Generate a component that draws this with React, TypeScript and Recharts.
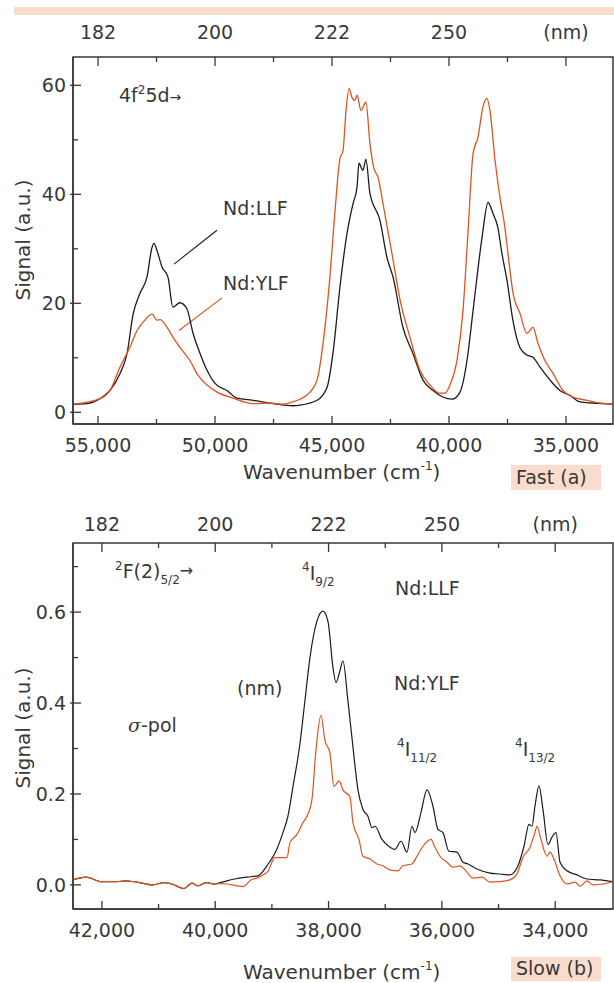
import React from "react"
import { LineChart, Line, XAxis, YAxis, ReferenceArea, ReferenceLine } from "recharts"

const INK = "#383838"
const LLF_COLOR = "#1c1c1c"
const YLF_COLOR = "#e0531f"
const BAND = "#f9dccb"
const FONT = "'DejaVu Sans', sans-serif"

// (a) fast component, 4f25d -> band, x = wavenumber (cm-1)
const fastLlfWn = [56070, 55470, 54920, 54490, 54060, 53760, 53500, 53210, 52910, 52690, 52610, 52480, 52270, 52010, 51800, 51500, 51200, 50940, 50640, 50340, 50000, 49490, 49060, 48380, 47520, 46670, 46370, 45640, 45210, 44960, 44660, 44360, 44100, 43930, 43850, 43680, 43550, 43380, 42950, 42650, 42390, 41970, 41540, 41110, 40680, 40260, 39870, 39530, 39230, 38970, 38590, 38330, 38120, 37910, 37740, 37520, 37270, 36970, 36670, 36410, 36110, 35680, 35260, 34830, 34400, 33850, 32990]
const fastLlfSig = [1.5, 1.6, 2.5, 4.0, 7.1, 10.8, 18, 21.8, 24.8, 30.3, 31, 29.7, 26.7, 24.8, 19.3, 20.1, 19, 14.5, 10.8, 7.7, 5.3, 4.0, 2.6, 2.2, 1.6, 1.2, 1.3, 2.2, 4.6, 10.8, 23, 32.8, 38.3, 41.3, 45.7, 44.4, 46.4, 40.2, 35.2, 28.4, 24.8, 15.6, 10.8, 5.9, 4.0, 2.8, 2.4, 3.7, 9.5, 18.7, 32, 38.5, 36.5, 33.9, 29.2, 24.2, 16.9, 11.9, 10.5, 10.1, 8.3, 5.9, 4.0, 3.1, 1.9, 1.7, 1.5]

const fastYlfWn = [56070, 54910, 54490, 54060, 53630, 53330, 53080, 52690, 52480, 52350, 52050, 51800, 51410, 51070, 50730, 50340, 49910, 49230, 48380, 47650, 47090, 46670, 46370, 45940, 45640, 45380, 45090, 44870, 44660, 44530, 44400, 44270, 44150, 44020, 43930, 43760, 43550, 43380, 43210, 43030, 42820, 42440, 42090, 41670, 41240, 40810, 40380, 40170, 39960, 39660, 39400, 39190, 38970, 38760, 38550, 38380, 38250, 38030, 37820, 37610, 37480, 37260, 36970, 36670, 36410, 36200, 35900, 35560, 35130, 34700, 34100, 33550, 32990]
const fastYlfSig = [1.5, 2.5, 4.0, 8.3, 12, 15, 16.5, 18, 16.9, 17, 15.6, 13.8, 11.4, 9.5, 6.8, 5.0, 3.7, 2.6, 1.6, 1.7, 1.5, 1.9, 2.4, 3.7, 5.9, 12.7, 24.8, 37, 46.6, 48, 55.4, 59.4, 57.8, 57.2, 58.2, 55.4, 56.9, 49.4, 44.8, 43.1, 38.3, 29.2, 20.6, 13.8, 7.7, 5.0, 3.5, 3.5, 5.0, 9.5, 18.7, 32.8, 47.5, 50.5, 56, 57.6, 55.4, 46.2, 39.4, 33.9, 29.2, 21.8, 18.2, 14.5, 15.6, 12.7, 9.5, 7.2, 4.0, 2.8, 2.2, 1.7, 1.5]

// (b) slow component, 2F(2)5/2 -> 4IJ; both crystals share the flat baseline
const slowBaseWn = [42510, 42280, 42000, 41735, 41595, 41380, 41100, 40905, 40765, 40555, 40410, 40305, 40165, 40005]
const slowBaseSig = [0.011, 0.017, 0.007, 0.007, 0.009, 0.006, 0.0, 0.005, 0.002, -0.008, 0.004, -0.002, 0.005, 0.002]

const slowLlfWn = [39935, 39794, 39652, 39440, 39246, 39087, 38911, 38805, 38717, 38628, 38505, 38417, 38328, 38205, 38099, 38011, 37922, 37869, 37799, 37746, 37658, 37569, 37481, 37393, 37305, 37234, 37181, 37057, 36916, 36828, 36722, 36616, 36528, 36475, 36369, 36263, 36157, 36069, 35981, 35875, 35734, 35628, 35540, 35381, 35151, 34975, 34799, 34657, 34551, 34463, 34410, 34357, 34286, 34216, 34128, 34057, 33986, 33915, 33792, 33616, 33439, 33210, 32980]
const slowLlfSig = [0.004, 0.009, 0.013, 0.017, 0.02, 0.042, 0.079, 0.115, 0.151, 0.216, 0.31, 0.405, 0.5, 0.58, 0.602, 0.58, 0.478, 0.445, 0.471, 0.493, 0.405, 0.303, 0.209, 0.166, 0.151, 0.126, 0.129, 0.1, 0.083, 0.078, 0.096, 0.072, 0.129, 0.115, 0.159, 0.209, 0.173, 0.122, 0.115, 0.074, 0.072, 0.05, 0.046, 0.035, 0.026, 0.024, 0.022, 0.042, 0.085, 0.133, 0.129, 0.173, 0.218, 0.166, 0.089, 0.105, 0.115, 0.05, 0.031, 0.022, 0.013, 0.011, 0.007]

const slowYlfWn = [39935, 39794, 39652, 39511, 39370, 39246, 39158, 39070, 38946, 38734, 38681, 38558, 38452, 38381, 38293, 38222, 38134, 38064, 37975, 37905, 37816, 37746, 37622, 37569, 37463, 37393, 37269, 37146, 37040, 36916, 36775, 36687, 36528, 36440, 36334, 36192, 36122, 36034, 35910, 35804, 35681, 35557, 35451, 35292, 35151, 34975, 34799, 34675, 34569, 34445, 34357, 34322, 34251, 34145, 34092, 34022, 33915, 33792, 33651, 33562, 33439, 33333, 33157, 32980]
const slowYlfSig = [0.003, 0.002, -0.001, -0.004, 0.011, 0.016, 0.022, 0.03, 0.06, 0.06, 0.093, 0.111, 0.137, 0.151, 0.188, 0.297, 0.373, 0.318, 0.29, 0.216, 0.229, 0.209, 0.194, 0.137, 0.1, 0.063, 0.057, 0.046, 0.042, 0.033, 0.031, 0.042, 0.046, 0.063, 0.085, 0.1, 0.083, 0.063, 0.05, 0.039, 0.042, 0.028, 0.015, 0.017, 0.006, 0.007, 0.011, 0.024, 0.061, 0.083, 0.115, 0.129, 0.1, 0.063, 0.072, 0.057, 0.02, 0.002, 0.006, -0.003, 0.009, 0.0, 0.002, 0.007]

// ticks
const fastWnTicks = [55000, 52500, 50000, 47500, 45000, 42500, 40000, 37500, 35000]
const fastWnMajors = [55000, 50000, 45000, 40000, 35000]
const fastWnLabels = ["55,000", "50,000", "45,000", "40,000", "35,000"]
const fastYTicks = [0, 10, 20, 30, 40, 50, 60]
const fastYMajors = [0, 20, 40, 60]
const fastYLabels = ["0", "20", "40", "60"]

const slowWnTicks = [42000, 41000, 40000, 39000, 38000, 37000, 36000, 35000, 34000]
const slowWnMajors = [42000, 40000, 38000, 36000, 34000]
const slowWnLabels = ["42,000", "40,000", "38,000", "36,000", "34,000"]
const slowYTicks = [0, 0.1, 0.2, 0.3, 0.4, 0.5, 0.6, 0.7]
const slowYMajors = [0, 0.2, 0.4, 0.6]
const slowYLabels = ["0.0", "0.2", "0.4", "0.6"]

// top axes carry the same wavelength labels in both panels
const nmLabels = ["182", "200", "222", "250", "(nm)"]

const zip = (xs: number[], ys: number[]) => xs.map((wn, i) => ({ wn, s: ys[i] }))

const fastLlf = zip(fastLlfWn, fastLlfSig)
const fastYlf = zip(fastYlfWn, fastYlfSig)
const slowLlf = zip([...slowBaseWn, ...slowLlfWn], [...slowBaseSig, ...slowLlfSig])
const slowYlf = zip([...slowBaseWn, ...slowYlfWn], [...slowBaseSig, ...slowYlfSig])

const txt = { fontFamily: FONT, fill: INK }

const bottomTick = (majors: number[], labels: string[]) => (props: any) => {
  const { x, y, payload } = props
  const i = majors.indexOf(payload.value)
  return (
    <g>
      <line x1={x} y1={y} x2={x} y2={y - (i >= 0 ? 8 : 5)} stroke={INK} strokeWidth={1.3} />
      {i >= 0 && (
        <text x={x} y={y + 21} textAnchor="middle" dominantBaseline="central" fontSize={19} {...txt}>
          {labels[i]}
        </text>
      )}
    </g>
  )
}

const topTick = (majors: number[], gap: number) => (props: any) => {
  const { x, y, payload } = props
  const i = majors.indexOf(payload.value)
  return (
    <g>
      <line x1={x} y1={y} x2={x} y2={y + (i >= 0 ? 9 : 5)} stroke={INK} strokeWidth={1.3} />
      {i >= 0 && (
        <text x={x} y={y - gap} textAnchor="middle" dominantBaseline="central" fontSize={19} {...txt}>
          {nmLabels[i]}
        </text>
      )}
    </g>
  )
}

const leftTick = (majors: number[], labels: string[]) => (props: any) => {
  const { x, y, payload } = props
  const i = majors.findIndex((m) => Math.abs(m - payload.value) < 1e-9)
  return (
    <g>
      {i >= 0 ? (
        <line x1={x - 3} y1={y} x2={x + 8} y2={y} stroke={INK} strokeWidth={1.3} />
      ) : (
        <line x1={x} y1={y} x2={x + 5} y2={y} stroke={INK} strokeWidth={1.3} />
      )}
      {i >= 0 && (
        <text x={x - 7} y={y} textAnchor="end" dominantBaseline="central" fontSize={19} {...txt}>
          {labels[i]}
        </text>
      )}
    </g>
  )
}

const FAST_X: [number, number] = [32990, 56070]
const FAST_Y: [number, number] = [-2.15, 65.2]
const SLOW_X: [number, number] = [32980, 42510]
const SLOW_Y: [number, number] = [-0.053, 0.752]

function FastPanel() {
  return (
    <LineChart width={614} height={460} margin={{ top: 0, right: 1, bottom: 0, left: 0 }}>
      <XAxis xAxisId="wn" dataKey="wn" type="number" domain={FAST_X} reversed allowDataOverflow
        ticks={fastWnTicks} interval={0} tickSize={0} tickMargin={0} height={36}
        axisLine={{ stroke: INK, strokeWidth: 1.5 }} tickLine={false}
        tick={bottomTick(fastWnMajors, fastWnLabels)} />
      <XAxis xAxisId="nm" orientation="top" dataKey="wn" type="number" domain={FAST_X} reversed allowDataOverflow
        ticks={fastWnTicks} interval={0} tickSize={0} tickMargin={0} height={57}
        axisLine={false} tickLine={false} tick={topTick(fastWnMajors, 25)} />
      <YAxis yAxisId="s" type="number" domain={FAST_Y} allowDataOverflow width={73}
        ticks={fastYTicks} interval={0} tickSize={0} tickMargin={0}
        axisLine={{ stroke: INK, strokeWidth: 1.5 }} tickLine={false}
        tick={leftTick(fastYMajors, fastYLabels)} />
      <ReferenceArea xAxisId="wn" yAxisId="s" x1={FAST_X[0]} x2={FAST_X[1]} y1={FAST_Y[0]} y2={FAST_Y[1]}
        fill="none" stroke={INK} strokeWidth={1.5} fillOpacity={0} />
      <ReferenceLine xAxisId="wn" yAxisId="s" segment={[{ x: 49915, y: 33.4 }, { x: 51750, y: 27.2 }]}
        stroke={LLF_COLOR} strokeWidth={1.1} />
      <ReferenceLine xAxisId="wn" yAxisId="s" segment={[{ x: 49700, y: 21.0 }, { x: 51540, y: 15.0 }]}
        stroke={YLF_COLOR} strokeWidth={1.1} />
      <Line xAxisId="wn" yAxisId="s" data={fastLlf} dataKey="s" type="monotone" stroke={LLF_COLOR}
        strokeWidth={1.3} dot={false} isAnimationActive={false} />
      <Line xAxisId="wn" yAxisId="s" data={fastYlf} dataKey="s" type="monotone" stroke={YLF_COLOR}
        strokeWidth={1.3} dot={false} isAnimationActive={false} />
    </LineChart>
  )
}

function SlowPanel() {
  return (
    <LineChart width={614} height={503} margin={{ top: 0, right: 1, bottom: 0, left: 0 }}>
      <XAxis xAxisId="wn" dataKey="wn" type="number" domain={SLOW_X} reversed allowDataOverflow
        ticks={slowWnTicks} interval={0} tickSize={0} tickMargin={0} height={74}
        axisLine={{ stroke: INK, strokeWidth: 1.5 }} tickLine={false}
        tick={bottomTick(slowWnMajors, slowWnLabels)} />
      <XAxis xAxisId="nm" orientation="top" dataKey="wn" type="number" domain={SLOW_X} reversed allowDataOverflow
        ticks={slowWnTicks} interval={0} tickSize={0} tickMargin={0} height={63}
        axisLine={false} tickLine={false} tick={topTick(slowWnMajors, 19)} />
      <YAxis yAxisId="s" type="number" domain={SLOW_Y} allowDataOverflow width={73}
        ticks={slowYTicks} interval={0} tickSize={0} tickMargin={0}
        axisLine={{ stroke: INK, strokeWidth: 1.5 }} tickLine={false}
        tick={leftTick(slowYMajors, slowYLabels)} />
      <ReferenceArea xAxisId="wn" yAxisId="s" x1={SLOW_X[0]} x2={SLOW_X[1]} y1={SLOW_Y[0]} y2={SLOW_Y[1]}
        fill="none" stroke={INK} strokeWidth={1.5} fillOpacity={0} />
      <Line xAxisId="wn" yAxisId="s" data={slowLlf} dataKey="s" type="monotone" stroke={LLF_COLOR}
        strokeWidth={1.2} dot={false} isAnimationActive={false} />
      <Line xAxisId="wn" yAxisId="s" data={slowYlf} dataKey="s" type="monotone" stroke={YLF_COLOR}
        strokeWidth={1.2} dot={false} isAnimationActive={false} />
    </LineChart>
  )
}

function Annotations() {
  const f = { ...txt, fontSize: 19 }
  return (
    <svg width={614} height={983} style={{ position: "absolute", left: 0, top: 0, pointerEvents: "none" }}>
      <rect x={14} y={7} width={600} height={8} fill={BAND} />

      {/* panel (a) */}
      <text x={119} y={102} {...f}>
        4f<tspan fontSize={12} dy={-8}>2</tspan><tspan dy={8}>5d</tspan><tspan fontSize={14}>→</tspan>
      </text>
      <text x={223} y={215} {...f}>Nd:LLF</text>
      <text x={223} y={290} {...f}>Nd:YLF</text>
      <text transform="translate(30,240) rotate(-90)" textAnchor="middle" {...txt} fontSize={20}>Signal (a.u.)</text>
      <text x={243} y={479} {...txt} fontSize={20}>
        Wavenumber (cm<tspan fontSize={12} dy={-9}>-1</tspan><tspan dy={9}>)</tspan>
      </text>
      <rect x={511} y={465} width={90} height={25} fill={BAND} />
      <text x={516} y={484} {...f}>Fast (a)</text>

      {/* panel (b) */}
      <text x={115} y={578} {...f}>
        <tspan fontSize={12} dy={-8}>2</tspan><tspan dy={8}>F(2)</tspan>
        <tspan fontSize={12} dy={6}>5/2</tspan><tspan fontSize={16} dy={-8}>→</tspan>
      </text>
      <text x={302} y={580} {...f}>
        <tspan fontSize={12} dy={-9}>4</tspan><tspan dy={9}>I</tspan><tspan fontSize={12} dy={6}>9/2</tspan>
      </text>
      <text x={395} y={595} {...f}>Nd:LLF</text>
      <text x={237} y={695} {...f}>(nm)</text>
      <text x={394} y={690} {...f}>Nd:YLF</text>
      <text x={128} y={732} {...f}>
        <tspan fontFamily="'DejaVu Serif', serif" fontStyle="italic">σ</tspan>-pol
      </text>
      <text x={397} y={756} {...f}>
        <tspan fontSize={12} dy={-9}>4</tspan><tspan dy={9}>I</tspan><tspan fontSize={12} dy={6}>11/2</tspan>
      </text>
      <text x={515} y={756} {...f}>
        <tspan fontSize={12} dy={-9}>4</tspan><tspan dy={9}>I</tspan><tspan fontSize={12} dy={6}>13/2</tspan>
      </text>
      <text transform="translate(30,728) rotate(-90)" textAnchor="middle" {...txt} fontSize={20}>Signal (a.u.)</text>
      <text x={243} y={979} {...txt} fontSize={20}>
        Wavenumber (cm<tspan fontSize={12} dy={-9}>-1</tspan><tspan dy={9}>)</tspan>
      </text>
      <rect x={511} y={957} width={90} height={24} fill={BAND} />
      <text x={516} y={975} {...f}>Slow (b)</text>
    </svg>
  )
}

export default function App() {
  return (
    <div style={{ position: "absolute", left: 0, top: 0, width: 614, height: 983, background: "#fff" }}>
      <div style={{ position: "absolute", left: 0, top: 0 }}>
        <FastPanel />
      </div>
      <div style={{ position: "absolute", left: 0, top: 480 }}>
        <SlowPanel />
      </div>
      <Annotations />
    </div>
  )
}
